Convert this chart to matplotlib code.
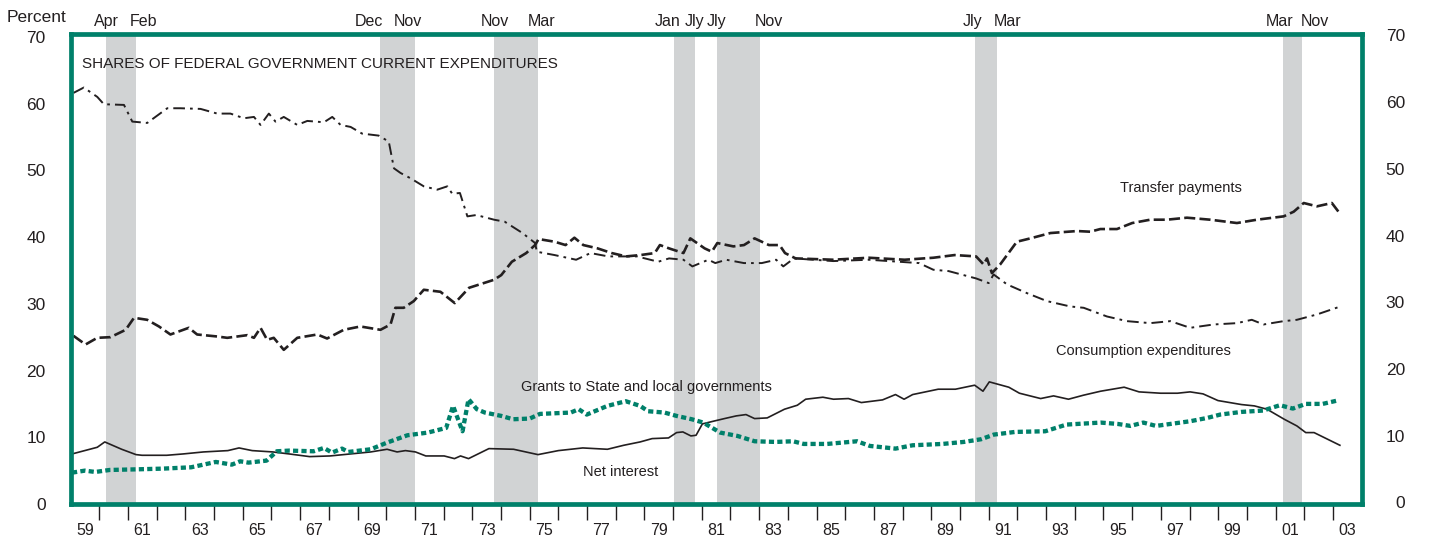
import matplotlib
matplotlib.use("Agg")
import matplotlib.pyplot as plt
import matplotlib.transforms as mtransforms
from matplotlib import font_manager
from matplotlib.ticker import FixedLocator, FixedFormatter, NullFormatter

plt.rcParams['font.family'] = ['Liberation Sans', 'DejaVu Sans']

# ---------------- data ----------------
CONS_YEAR = [1959.10, 1959.46, 1959.93, 1960.16, 1960.86, 1961.15, 1961.67, 1962.37, 1962.83,
             1963.53, 1964.11, 1964.57, 1965.04, 1965.39, 1965.62, 1965.91, 1966.14, 1966.43,
             1966.90, 1967.25, 1967.83, 1968.12, 1968.41, 1968.76, 1969.16, 1969.74, 1970.09,
             1970.27, 1970.50, 1970.85, 1971.31, 1971.78, 1972.13, 1972.30, 1972.57, 1972.83,
             1973.14, 1973.76, 1974.13, 1974.75, 1975.19, 1975.25, 1975.87, 1976.62, 1977.12,
             1977.74, 1978.74, 1979.48, 1979.86, 1980.36, 1980.67, 1981.23, 1981.47, 1981.85,
             1982.47, 1983.09, 1983.59, 1983.84, 1984.21, 1985.58, 1986.82, 1988.57, 1989.07,
             1989.60, 1990.56, 1991.00, 1991.17, 1991.64, 1992.33, 1993.03, 1993.84, 1994.31,
             1995.12, 1995.82, 1996.63, 1997.33, 1998.02, 1998.84, 1999.65, 2000.17, 2000.58,
             2001.28, 2001.74, 2002.44, 2003.19]
CONS_PCT = [61.6, 62.4, 61.0, 59.9, 59.8, 57.3, 57.1, 59.3, 59.3,
            59.2, 58.5, 58.5, 57.8, 58.0, 56.8, 58.5, 57.3, 58.0,
            56.8, 57.4, 57.2, 58.0, 56.8, 56.5, 55.5, 55.2, 54.3,
            50.3, 49.6, 48.8, 47.6, 47.1, 47.6, 46.5, 46.6, 43.1,
            43.3, 42.6, 42.3, 40.6, 39.1, 37.8, 37.3, 36.6, 37.6,
            37.1, 37.1, 36.3, 36.8, 36.6, 35.6, 36.6, 36.1, 36.6,
            36.1, 36.1, 36.6, 35.6, 36.8, 36.4, 36.6, 36.1, 35.1,
            34.9, 33.8, 33.1, 34.4, 32.9, 31.6, 30.4, 29.6, 29.4,
            28.1, 27.4, 27.1, 27.4, 26.4, 26.9, 27.1, 27.6, 26.9,
            27.4, 27.6, 28.4, 29.5]

TRANS_YEAR = [1959.10, 1959.52, 1959.93, 1960.39, 1960.92, 1961.21, 1961.67, 1962.08, 1962.48,
              1963.12, 1963.41, 1964.11, 1964.46, 1965.16, 1965.39, 1965.62, 1965.85, 1966.08,
              1966.43, 1966.90, 1967.60, 1967.94, 1968.52, 1969.10, 1969.80, 1970.15, 1970.32,
              1970.61, 1970.96, 1971.31, 1971.89, 1972.39, 1972.89, 1973.76, 1974.01, 1974.38,
              1974.88, 1975.19, 1975.31, 1975.87, 1976.25, 1976.56, 1976.87, 1977.37, 1977.86,
              1978.36, 1978.86, 1979.36, 1979.54, 1979.86, 1980.36, 1980.60, 1981.10, 1981.35,
              1981.54, 1982.10, 1982.47, 1982.84, 1983.34, 1983.71, 1983.90, 1984.27, 1985.58,
              1986.82, 1988.07, 1989.07, 1989.81, 1990.56, 1990.82, 1990.94, 1991.11, 1991.40,
              1991.98, 1992.45, 1993.15, 1994.08, 1994.54, 1994.89, 1995.47, 1996.00, 1996.63,
              1997.21, 1997.91, 1998.72, 1999.65, 2000.35, 2001.28, 2001.63, 2001.98, 2002.44,
              2002.96, 2003.19]
TRANS_PCT = [25.2, 23.9, 24.9, 25.0, 26.1, 27.9, 27.6, 26.6, 25.4,
             26.4, 25.4, 25.1, 24.9, 25.3, 24.9, 26.4, 24.6, 24.9,
             23.1, 24.9, 25.4, 24.8, 26.1, 26.6, 26.1, 26.9, 29.4,
             29.4, 30.4, 32.1, 31.8, 30.1, 32.4, 33.6, 34.3, 36.3,
             37.6, 38.8, 39.7, 39.3, 38.8, 39.9, 38.8, 38.3, 37.6,
             37.1, 37.3, 37.6, 38.8, 38.3, 37.6, 39.8, 38.3, 37.8,
             39.1, 38.6, 38.8, 39.8, 38.8, 38.8, 37.6, 36.8, 36.6,
             36.9, 36.6, 36.9, 37.3, 37.1, 35.9, 36.8, 34.6, 35.9,
             39.3, 39.8, 40.6, 40.9, 40.8, 41.2, 41.2, 42.1, 42.6,
             42.6, 42.9, 42.6, 42.1, 42.6, 43.1, 43.8, 45.1, 44.6,
             45.1, 43.8]

GRANT_YEAR = [1959.05, 1959.50, 1959.86, 1960.36, 1961.36, 1962.21, 1963.20, 1964.06, 1964.62,
              1964.91, 1965.20, 1965.83, 1966.19, 1966.62, 1967.47, 1967.83, 1968.11, 1968.46,
              1968.68, 1969.46, 1970.03, 1970.74, 1971.45, 1972.09, 1972.33, 1972.66, 1972.87,
              1973.16, 1973.44, 1974.01, 1974.42, 1975.00, 1975.36, 1976.43, 1976.71, 1976.99,
              1977.71, 1978.35, 1978.85, 1979.13, 1979.70, 1980.12, 1980.65, 1981.05, 1981.64,
              1982.24, 1982.84, 1983.58, 1984.18, 1984.55, 1985.37, 1986.41, 1986.86, 1987.75,
              1988.35, 1989.39, 1990.13, 1990.73, 1991.18, 1991.92, 1992.97, 1993.71, 1994.90,
              1995.49, 1995.94, 1996.39, 1996.83, 1998.02, 1998.62, 1999.07, 1999.81, 2000.56,
              2001.15, 2001.60, 2002.05, 2002.64, 2003.15]
GRANT_PCT = [4.7, 5.0, 4.8, 5.1, 5.2, 5.3, 5.5, 6.3, 5.9,
             6.4, 6.2, 6.5, 7.9, 8.0, 7.9, 8.4, 7.7, 8.3,
             7.8, 8.2, 9.2, 10.3, 10.7, 11.4, 14.7, 10.9, 15.7,
             14.2, 13.7, 13.2, 12.7, 12.8, 13.5, 13.7, 14.2, 13.4,
             14.7, 15.4, 14.7, 13.9, 13.7, 13.2, 12.7, 12.2, 10.7,
             10.2, 9.4, 9.3, 9.4, 9.0, 9.0, 9.4, 8.7, 8.3,
             8.8, 9.0, 9.3, 9.7, 10.4, 10.8, 10.9, 11.9, 12.2,
             12.0, 11.7, 12.2, 11.7, 12.4, 12.9, 13.4, 13.8, 14.0,
             14.8, 14.3, 15.0, 15.0, 15.5]

NET_YEAR = [1959.05, 1959.93, 1960.19, 1960.78, 1961.28, 1961.49, 1962.35, 1962.92, 1963.63,
            1964.48, 1964.87, 1965.33, 1966.05, 1966.62, 1967.33, 1968.04, 1968.75, 1969.46,
            1970.03, 1970.38, 1970.67, 1971.02, 1971.38, 1972.02, 1972.38, 1972.59, 1972.87,
            1973.58, 1974.44, 1975.29, 1976.00, 1976.85, 1977.71, 1978.28, 1978.85, 1979.27,
            1979.84, 1980.12, 1980.34, 1980.62, 1980.80, 1981.02, 1981.40, 1981.79, 1982.20,
            1982.54, 1982.84, 1983.28, 1983.88, 1984.33, 1984.62, 1985.22, 1985.59, 1986.11,
            1986.56, 1987.30, 1987.75, 1988.05, 1988.35, 1989.24, 1989.84, 1990.51, 1990.80,
            1991.02, 1991.70, 1992.07, 1992.81, 1993.26, 1993.78, 1994.30, 1994.90, 1995.72,
            1996.24, 1996.99, 1997.58, 1998.02, 1998.47, 1998.99, 1999.81, 2000.26, 2000.70,
            2001.30, 2001.74, 2002.05, 2002.34, 2003.24]
NET_PCT = [7.5, 8.5, 9.3, 8.2, 7.4, 7.3, 7.3, 7.5, 7.8,
           8.0, 8.4, 8.0, 7.8, 7.5, 7.1, 7.2, 7.5, 7.8,
           8.2, 7.8, 8.0, 7.8, 7.2, 7.2, 6.8, 7.2, 6.8,
           8.3, 8.2, 7.4, 8.0, 8.4, 8.2, 8.8, 9.3, 9.8,
           9.9, 10.7, 10.8, 10.2, 10.3, 12.0, 12.4, 12.8, 13.2,
           13.4, 12.8, 12.9, 14.2, 14.8, 15.7, 16.0, 15.7, 15.8,
           15.2, 15.6, 16.4, 15.7, 16.4, 17.2, 17.2, 17.8, 16.9,
           18.3, 17.5, 16.6, 15.8, 16.2, 15.7, 16.3, 16.9, 17.5,
           16.8, 16.6, 16.6, 16.8, 16.5, 15.5, 14.9, 14.7, 14.2,
           12.7, 11.7, 10.7, 10.7, 8.8]

RECESSION_START = [1960.23, 1969.78, 1973.75, 1980.03, 1981.54, 1990.52, 2001.26]
RECESSION_END = [1961.27, 1970.99, 1975.28, 1980.75, 1983.02, 1991.28, 2001.93]
REC_LABEL_TEXT = ["Apr", "Feb", "Dec", "Nov", "Nov", "Mar", "Jan", "Jly", "Jly", "Nov",
                  "Jly", "Mar", "Mar", "Nov"]
REC_LABEL_YEAR = [1960.26, 1961.55, 1969.39, 1970.77, 1973.79, 1975.43, 1979.82, 1980.74,
                  1981.51, 1983.33, 1990.44, 1991.66, 2001.14, 2002.36]

Y_TICKS = [0, 10, 20, 30, 40, 50, 60, 70]
YEAR_LABELS = ["59", "61", "63", "65", "67", "69", "71", "73", "75", "77", "79", "81",
               "83", "85", "87", "89", "91", "93", "95", "97", "99", "01", "03"]
FIRST_YEAR, LAST_YEAR = 1959, 2004

# ---------------- styling ----------------
GREEN = '#00806A'
INK = '#231F20'
SHADE = '#D1D3D4'

# condensed face for the in-chart captions, if the narrow Liberation face is installed
_names = {f.name for f in font_manager.fontManager.ttflist}
if 'Liberation Sans Narrow' in _names:
    CAP_FONT = ['Liberation Sans Narrow', 'DejaVu Sans']
    CAP_SCALE = 1.0 / 0.84
else:
    CAP_FONT = ['Liberation Sans', 'DejaVu Sans']
    CAP_SCALE = 1.0

fig = plt.figure(figsize=(14.31, 5.46), dpi=100)
ax = fig.add_axes([70.6 / 1431, 42 / 546, (1361.7 - 70.6) / 1431, 470.5 / 546])
ax.set_xlim(FIRST_YEAR, LAST_YEAR)
ax.set_ylim(0, 70.5)

for s, e in zip(RECESSION_START, RECESSION_END):
    ax.axvspan(s, e, color=SHADE, lw=0, zorder=0)

ax.plot(CONS_YEAR, CONS_PCT, color=INK, lw=1.4, linestyle=(0, (6, 2.6, 1.4, 2.6)), zorder=3)
ax.plot(TRANS_YEAR, TRANS_PCT, color=INK, lw=1.9, linestyle=(0, (4.2, 1.6)), zorder=3)
ax.plot(NET_YEAR, NET_PCT, color=INK, lw=1.2, zorder=3)
ax.plot(GRANT_YEAR, GRANT_PCT, color=GREEN, lw=3.1, linestyle=(0, (1.2, 0.75)),
        dash_capstyle='butt', zorder=3)

for sp in ax.spines.values():
    sp.set_color(GREEN)
    sp.set_linewidth(3.4)
    sp.set_capstyle('projecting')
    sp.set_zorder(5)

# x axis: tick marks at year boundaries, labels at odd mid-years
ax.xaxis.set_major_locator(FixedLocator(list(range(FIRST_YEAR + 1, LAST_YEAR))))
ax.xaxis.set_major_formatter(NullFormatter())
ax.xaxis.set_minor_locator(FixedLocator([FIRST_YEAR + 0.5 + 2 * i for i in range(len(YEAR_LABELS))]))
ax.xaxis.set_minor_formatter(FixedFormatter(YEAR_LABELS))
ax.tick_params(axis='x', which='major', direction='out', length=11.5, width=1.0, color=INK)
ax.tick_params(axis='x', which='minor', length=0, pad=13.5, labelsize=11.5, labelcolor=INK)

# y axis: labels 0..70 on both sides, tick marks 10..60
ax.yaxis.set_major_locator(FixedLocator(Y_TICKS))
ax.yaxis.set_major_formatter(FixedFormatter([str(v) for v in Y_TICKS]))
ax.yaxis.set_minor_locator(FixedLocator(Y_TICKS[1:-1]))
ax.tick_params(axis='y', which='major', left=True, right=True, labelleft=True, labelright=False,
               length=0, pad=18.0, labelsize=12.5, labelcolor=INK)
ax.tick_params(axis='y', which='minor', left=True, right=True, direction='out',
               length=11.5, width=1.0, color=INK)

# right-hand labels, right-aligned like the reference
trans_r = mtransforms.blended_transform_factory(fig.transFigure, ax.transData)
for v in Y_TICKS:
    ax.text(1405 / 1431, v, str(v), transform=trans_r, ha='right', va='center',
            fontsize=12.5, color=INK, clip_on=False)

# recession month labels above the frame
trans_top = mtransforms.blended_transform_factory(ax.transData, ax.transAxes)
for lab, yr in zip(REC_LABEL_TEXT, REC_LABEL_YEAR):
    ax.text(yr, 1.016, lab, transform=trans_top, ha='center', va='baseline',
            fontsize=11.5, color=INK, clip_on=False)

fig.text(7 / 1431, 1 - 22 / 546, 'Percent', ha='left', va='baseline', fontsize=12.5, color=INK)

ax.text(1959.39, 66.0, 'SHARES OF FEDERAL GOVERNMENT CURRENT EXPENDITURES',
        fontsize=11 * CAP_SCALE, family=CAP_FONT, ha='left', va='center', color=INK)
ax.text(1995.56, 47.4, 'Transfer payments', fontsize=10.5 * CAP_SCALE, family=CAP_FONT,
        ha='left', va='center', color=INK)
ax.text(1993.36, 22.9, 'Consumption expenditures', fontsize=10.5 * CAP_SCALE, family=CAP_FONT,
        ha='left', va='center', color=INK)
ax.text(1974.69, 17.6, 'Grants to State and local governments', fontsize=10.5 * CAP_SCALE,
        family=CAP_FONT, ha='left', va='center', color=INK)
ax.text(1976.86, 4.8, 'Net interest', fontsize=10.5 * CAP_SCALE, family=CAP_FONT,
        ha='left', va='center', color=INK)

fig.savefig('out.png', dpi=100)
